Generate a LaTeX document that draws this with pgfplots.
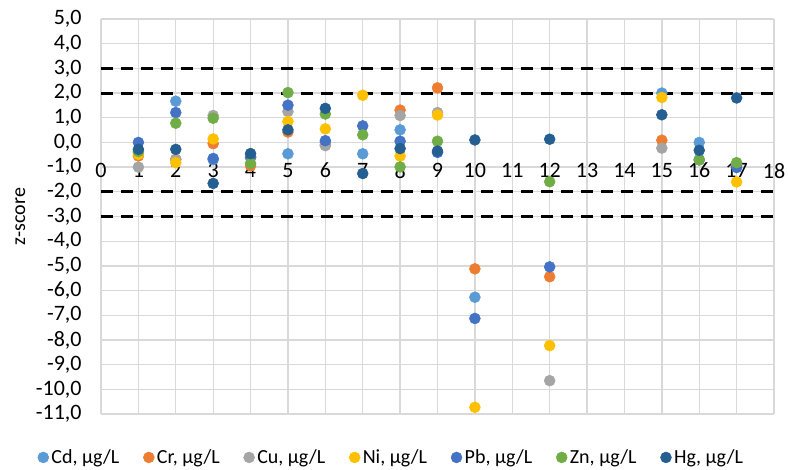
\documentclass[border=0pt]{standalone}
\usepackage{fontspec}
\setmainfont{Carlito}
\usepackage{pgfplots}
\pgfplotsset{compat=1.18}
\pgfplotsset{layers/mylayers/.define layer set={axis background,axis grid,axis ticks,axis lines,main,axis tick labels,axis descriptions,axis foreground}{}}
\definecolor{cCd}{HTML}{5B9BD5}
\definecolor{cCr}{HTML}{ED7D31}
\definecolor{cCu}{HTML}{A5A5A5}
\definecolor{cNi}{HTML}{FFC000}
\definecolor{cPb}{HTML}{4472C4}
\definecolor{cZn}{HTML}{70AD47}
\definecolor{cHg}{HTML}{255E91}
\definecolor{gridgray}{HTML}{D9D9D9}
\begin{document}
\begin{tikzpicture}[x=0.75pt,y=0.75pt]
\begin{axis}[
  set layers=mylayers,
  at={(75.75pt,42pt)}, anchor=south west,
  scale only axis, width=504.75pt, height=296.25pt,
  xmin=0, xmax=18, ymin=-11, ymax=5,
  axis x line*=middle, axis y line*=left,
  hide obscured x ticks=false,
  axis line style={draw=gridgray, line width=1pt},
  xtick={0,...,18}, ytick={-11,...,5},
  major tick length=0pt,
  grid=major, major grid style={draw=gridgray, line width=1pt},
  /pgf/number format/assume math mode=true,
  tick label style={font=\fontsize{16.5}{19}\selectfont},
  xticklabel style={yshift=-12pt},
  yticklabel style={xshift=-11pt, /pgf/number format/fixed, /pgf/number format/fixed zerofill, /pgf/number format/precision=1, /pgf/number format/use comma},
  ylabel={z-score},
  ylabel style={font=\fontsize{15}{18}\selectfont, at={(axis description cs:-0.120,0.5)}, anchor=center},
  legend columns=7,
  legend style={at={(0.432,-0.110)}, anchor=center, draw=none, fill=none,
    font=\fontsize{15}{18}\selectfont,
    /tikz/every even column/.append style={column sep=16pt}},
  legend image code/.code={\draw[mark repeat=2,mark phase=2] plot coordinates {(0pt,0pt) (4pt,0pt) (8pt,0pt)};},
  every axis plot/.append style={only marks, mark=*, mark size=4.1pt},
]
\addplot[black, line width=2.25pt, dash pattern=on 9pt off 6pt, forget plot, no marks, sharp plot] coordinates {(0,3) (18,3)};
\addplot[black, line width=2.25pt, dash pattern=on 9pt off 6pt, forget plot, no marks, sharp plot] coordinates {(0,2) (18,2)};
\addplot[black, line width=2.25pt, dash pattern=on 9pt off 6pt, forget plot, no marks, sharp plot] coordinates {(0,-2) (18,-2)};
\addplot[black, line width=2.25pt, dash pattern=on 9pt off 6pt, forget plot, no marks, sharp plot] coordinates {(0,-3) (18,-3)};
\addplot[color=cCd, mark options={fill=cCd, draw=cCd}] coordinates {(1,-0.4) (2,1.67) (3,-0.7) (4,-0.6) (5,-0.46) (6,0.0) (7,-0.46) (8,0.51) (9,-0.4) (10,-6.27) (15,2.0) (16,0.0) (17,-0.9)};
\addlegendentry{Cd, µg/L}
\addplot[color=cCr, mark options={fill=cCr, draw=cCr}] coordinates {(1,-0.55) (2,-0.68) (3,-0.05) (4,-0.95) (5,0.42) (6,-0.1) (8,1.31) (9,2.21) (10,-5.12) (12,-5.44) (15,0.09) (17,-0.9)};
\addlegendentry{Cr, µg/L}
\addplot[color=cCu, mark options={fill=cCu, draw=cCu}] coordinates {(1,-1.0) (2,-0.7) (3,1.09) (5,1.25) (6,-0.13) (8,1.09) (9,1.21) (12,-9.65) (15,-0.23) (17,-0.9)};
\addlegendentry{Cu, µg/L}
\addplot[color=cNi, mark options={fill=cNi, draw=cNi}] coordinates {(1,-0.48) (2,-0.82) (3,0.14) (4,-0.6) (5,0.85) (6,0.55) (7,1.91) (8,-0.55) (9,1.11) (10,-10.73) (12,-8.23) (15,1.82) (17,-1.6)};
\addlegendentry{Ni, µg/L}
\addplot[color=cPb, mark options={fill=cPb, draw=cPb}] coordinates {(1,0.0) (2,1.21) (3,-0.65) (4,-0.6) (5,1.51) (6,0.07) (7,0.67) (8,0.05) (9,-0.4) (10,-7.13) (12,-5.04) (16,-0.7) (17,-1.02)};
\addlegendentry{Pb, µg/L}
\addplot[color=cZn, mark options={fill=cZn, draw=cZn}] coordinates {(1,-0.37) (2,0.78) (3,0.98) (4,-0.85) (5,2.02) (6,1.15) (7,0.31) (8,-0.99) (9,0.05) (12,-1.59) (16,-0.71) (17,-0.82)};
\addlegendentry{Zn, µg/L}
\addplot[color=cHg, mark options={fill=cHg, draw=cHg}] coordinates {(1,-0.28) (2,-0.28) (3,-1.66) (4,-0.45) (5,0.51) (6,1.38) (7,-1.26) (8,-0.25) (9,-0.35) (10,0.1) (12,0.13) (15,1.12) (16,-0.32) (17,1.8)};
\addlegendentry{Hg, µg/L}
\end{axis}
\pgfresetboundingbox
\useasboundingbox (0,0) rectangle (788,470);
\end{tikzpicture}
\end{document}
